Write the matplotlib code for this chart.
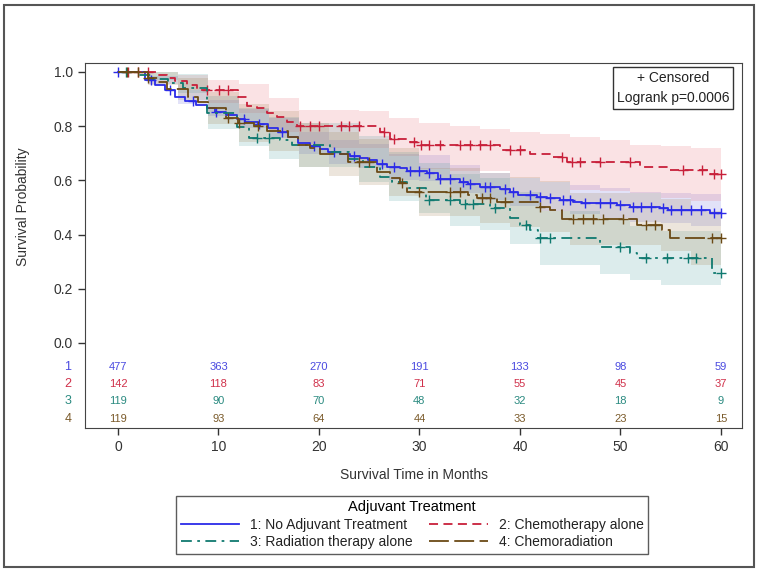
import numpy as np
import matplotlib.pyplot as plt
from matplotlib.patches import Rectangle
from matplotlib.transforms import blended_transform_factory

plt.rcParams['font.family'] = ['Liberation Sans', 'DejaVu Sans']

# Kaplan-Meier steps: event times (months) and survival after the step
t1 = [0, 2.7, 3.7, 4.7, 5.7, 6.7, 7.8, 8.9, 9.7, 10.8, 11.8, 12.6, 13.9, 14.9, 15.9, 16.9,
      17.9, 19.1, 20.1, 20.9, 22.1, 23.1, 24.1, 24.9, 25.8, 26.8, 28.1, 28.8, 30.8, 31.8,
      34.0, 34.8, 36.0, 38.0, 39.0, 39.8, 41.7, 42.7, 44.0, 45.3, 46.2, 49.7, 51.0, 53.9,
      54.7, 58.9]
s1 = [1.0, 0.970, 0.952, 0.934, 0.908, 0.893, 0.878, 0.867, 0.852, 0.841, 0.827, 0.815,
      0.808, 0.793, 0.779, 0.760, 0.738, 0.727, 0.716, 0.705, 0.697, 0.690, 0.683, 0.675,
      0.661, 0.649, 0.646, 0.635, 0.627, 0.605, 0.594, 0.587, 0.576, 0.568, 0.557, 0.546,
      0.539, 0.535, 0.528, 0.520, 0.517, 0.509, 0.502, 0.498, 0.491, 0.480]
c1 = [0, 3.3, 5.2, 7.5, 9.8, 12.5, 14.0, 16.3, 19.5, 21.5, 23.5, 26.3, 27.5, 29.1, 30.0,
      31.0, 32.0, 33.0, 34.3, 35.0, 36.5, 37.0, 38.5, 39.3, 41.0, 42.0, 43.0, 44.3, 45.0,
      46.5, 48.0, 49.0, 50.0, 51.3, 52.0, 53.0, 54.2, 55.0, 56.0, 57.0, 58.0, 59.3, 60.0]

t2 = [0, 3.9, 4.9, 5.7, 6.9, 7.9, 11.9, 12.8, 13.8, 14.8, 15.8, 16.8, 17.8, 26.1, 27.1,
      29.1, 29.8, 38.0, 41.0, 43.2, 44.7, 51.9, 54.9, 58.9]
s2 = [1.0, 0.989, 0.978, 0.967, 0.952, 0.934, 0.908, 0.875, 0.867, 0.849, 0.834, 0.815,
      0.801, 0.779, 0.753, 0.742, 0.731, 0.712, 0.697, 0.686, 0.668, 0.649, 0.638, 0.624]
c2 = [1.0, 2.0, 3.0, 8.9, 10.1, 11.0, 18.1, 19.1, 20.0, 22.2, 23.0, 24.0, 26.5, 27.5,
      29.5, 30.2, 31.0, 32.0, 34.0, 35.0, 36.0, 37.0, 39.0, 40.0, 44.2, 45.2, 46.0, 48.0,
      51.0, 56.2, 58.1, 59.3, 60.0]

t3 = [0, 2.0, 3.5, 5.0, 6.5, 8.9, 11.8, 13.0, 16.1, 17.3, 21.1, 23.0, 24.4, 26.1, 27.3,
      28.8, 30.7, 34.0, 37.0, 39.0, 40.0, 41.0, 41.8, 48.0, 51.0, 51.7, 59.1]
s3 = [1.0, 0.990, 0.975, 0.958, 0.940, 0.850, 0.797, 0.756, 0.749, 0.731, 0.705, 0.680,
      0.649, 0.613, 0.594, 0.572, 0.528, 0.513, 0.498, 0.461, 0.435, 0.417, 0.387, 0.354,
      0.332, 0.314, 0.258]
c3 = [0.8, 13.8, 15.0, 31.0, 33.0, 34.5, 35.3, 37.5, 40.6, 42.0, 43.0, 50.0, 52.5, 54.6,
      56.7, 57.5, 60.0]

t4 = [0, 3.0, 4.0, 4.9, 7.0, 8.0, 9.0, 10.8, 11.9, 13.5, 14.8, 16.9, 17.9, 19.1, 20.1,
      22.9, 25.8, 27.1, 28.1, 28.8, 34.8, 35.7, 37.7, 41.8, 43.0, 44.2, 51.7, 54.1, 54.9]
s4 = [1.0, 0.978, 0.963, 0.937, 0.908, 0.889, 0.867, 0.830, 0.812, 0.800, 0.782, 0.760,
      0.731, 0.720, 0.697, 0.668, 0.631, 0.609, 0.590, 0.557, 0.546, 0.535, 0.520, 0.502,
      0.491, 0.458, 0.435, 0.417, 0.387]
c4 = [0.9, 2.0, 3.0, 11.0, 12.0, 13.9, 24.0, 25.0, 28.3, 30.0, 33.0, 34.0, 36.2, 37.0,
      38.5, 42.0, 45.3, 46.3, 47.3, 48.3, 50.3, 52.5, 53.4, 59.1, 60.0]

# 95% bands read at 3-month steps
band_t = [0, 3, 6, 9, 12, 15, 18, 21, 24, 27, 30, 33, 36, 39, 42, 45, 48, 51, 54, 57, 60]
lo1 = [1.0, 0.955, 0.883, 0.837, 0.792, 0.755, 0.696, 0.662, 0.645, 0.602, 0.598, 0.555,
       0.526, 0.505, 0.486, 0.474, 0.462, 0.446, 0.441, 0.433, 0.420]
hi1 = [1.0, 0.985, 0.933, 0.897, 0.862, 0.831, 0.780, 0.748, 0.735, 0.696, 0.694, 0.655,
       0.626, 0.609, 0.592, 0.582, 0.572, 0.558, 0.555, 0.549, 0.540]
lo2 = [1.0, 1.0, 0.935, 0.885, 0.850, 0.780, 0.725, 0.720, 0.720, 0.690, 0.640, 0.635,
       0.635, 0.610, 0.595, 0.565, 0.560, 0.555, 0.535, 0.525, 0.530]
hi2 = [1.0, 1.0, 0.990, 0.970, 0.955, 0.905, 0.860, 0.860, 0.855, 0.830, 0.810, 0.800,
       0.790, 0.780, 0.770, 0.760, 0.750, 0.730, 0.725, 0.720, 0.712]
lo3 = [1.0, 0.970, 0.923, 0.790, 0.727, 0.678, 0.651, 0.651, 0.595, 0.523, 0.479, 0.433,
       0.417, 0.364, 0.289, 0.289, 0.254, 0.232, 0.214, 0.214, 0.153]
hi3 = [1.0, 1.0, 0.993, 0.910, 0.867, 0.834, 0.811, 0.811, 0.765, 0.703, 0.665, 0.623,
       0.609, 0.558, 0.485, 0.485, 0.454, 0.432, 0.414, 0.414, 0.363]
lo4 = [1.0, 0.953, 0.897, 0.807, 0.742, 0.707, 0.651, 0.615, 0.583, 0.544, 0.467, 0.467,
       0.443, 0.427, 0.408, 0.363, 0.363, 0.362, 0.338, 0.289, 0.287]
hi4 = [1.0, 1.0, 0.977, 0.927, 0.882, 0.857, 0.811, 0.779, 0.753, 0.718, 0.647, 0.647,
       0.627, 0.613, 0.596, 0.553, 0.553, 0.554, 0.532, 0.485, 0.487]

risk_t = [0, 10, 20, 30, 40, 50, 60]
risk1 = [477, 363, 270, 191, 133, 98, 59]
risk2 = [142, 118, 83, 71, 55, 45, 37]
risk3 = [119, 90, 70, 48, 32, 18, 9]
risk4 = [119, 93, 64, 44, 33, 23, 15]

names = ['1: No Adjuvant Treatment', '2: Chemotherapy alone',
         '3: Radiation therapy alone', '4: Chemoradiation']

groups = [
    (t1, s1, c1, lo1, hi1, risk1, '#2b2be8', '#4a4ae0', '-', '#7070e0'),
    (t2, s2, c2, lo2, hi2, risk2, '#c8203a', '#d0304a', (0, (5, 3)), '#e8707a'),
    (t3, s3, c3, lo3, hi3, risk3, '#107a70', '#2a8a80', (0, (6, 3, 1.5, 3)), '#50a0a0'),
    (t4, s4, c4, lo4, hi4, risk4, '#6b4a16', '#7a5a2a', (0, (11, 3)), '#a08050'),
]

fig = plt.figure(figsize=(7.61, 5.73), dpi=100)
ax = fig.add_axes([85 / 761, 145 / 573, 657 / 761, 365 / 573])

trans = blended_transform_factory(ax.transAxes, ax.transData)
row_y = [-0.089, -0.152, -0.216, -0.280]

handles = []
for i, (t, s, c, lo, hi, risk, col, tcol, ls, bcol) in enumerate(groups):
    ax.fill_between(band_t, lo, hi, step='post', color=bcol, alpha=0.2, lw=0)
    tt = list(t) + [max(c)]
    ss = list(s) + [s[-1]]
    h, = ax.step(tt, ss, where='post', color=col, lw=1.3, linestyle=ls)
    handles.append(h)
    idx = np.searchsorted(t, c, side='right') - 1
    ax.plot(c, np.array(s)[idx], '+', color=col, ms=7, mew=1.0)
    for x, n in zip(risk_t, risk):
        ax.text(x, row_y[i], str(n), color=tcol, fontsize=8, ha='center', va='center')
    ax.text(-0.026, row_y[i], str(i + 1), color=tcol, fontsize=9, ha='center',
            va='center', transform=trans)

ax.set_xlim(-3.28, 62.1)
ax.set_ylim(-0.314, 1.033)
ax.set_xticks(risk_t)
ax.set_yticks([0, 0.2, 0.4, 0.6, 0.8, 1.0])
ax.set_yticklabels(['%.1f' % v for v in [0, 0.2, 0.4, 0.6, 0.8, 1.0]])
ax.tick_params(colors='#333333', labelsize=10, length=5, width=1)
for sp in ax.spines.values():
    sp.set_color('#444444')
ax.set_xlabel('Survival Time in Months', fontsize=10, color='#333333', labelpad=10)
ax.set_ylabel('Survival Probability', fontsize=10, color='#333333')
ax.yaxis.set_label_coords(-0.084, 0.605)

ax.text(0.895, 0.932, '+ Censored\nLogrank p=0.0006', transform=ax.transAxes,
        ha='center', va='center', fontsize=10, color='#222222', linespacing=1.5,
        bbox=dict(boxstyle='square,pad=0.3', fc='white', ec='#333333', lw=1))

leg = fig.legend([handles[0], handles[2], handles[1], handles[3]],
                 [names[0], names[2], names[1], names[3]],
                 ncol=2, loc='center', bbox_to_anchor=(0.5415, 0.084),
                 title='Adjuvant Treatment', fontsize=10, title_fontsize=10.5,
                 frameon=True, fancybox=False, edgecolor='#333333',
                 handlelength=4.2, columnspacing=1.2, labelspacing=0.25,
                 borderpad=0.3, handletextpad=0.8)
leg.get_frame().set_linewidth(1)
for txt in leg.get_texts():
    txt.set_color('#222222')

fig.patches.append(Rectangle((4 / 761, 6 / 573), 750 / 761, 562 / 573,
                             transform=fig.transFigure, fill=False,
                             ec='#555555', lw=1.5))

fig.savefig('out.png', dpi=100)
